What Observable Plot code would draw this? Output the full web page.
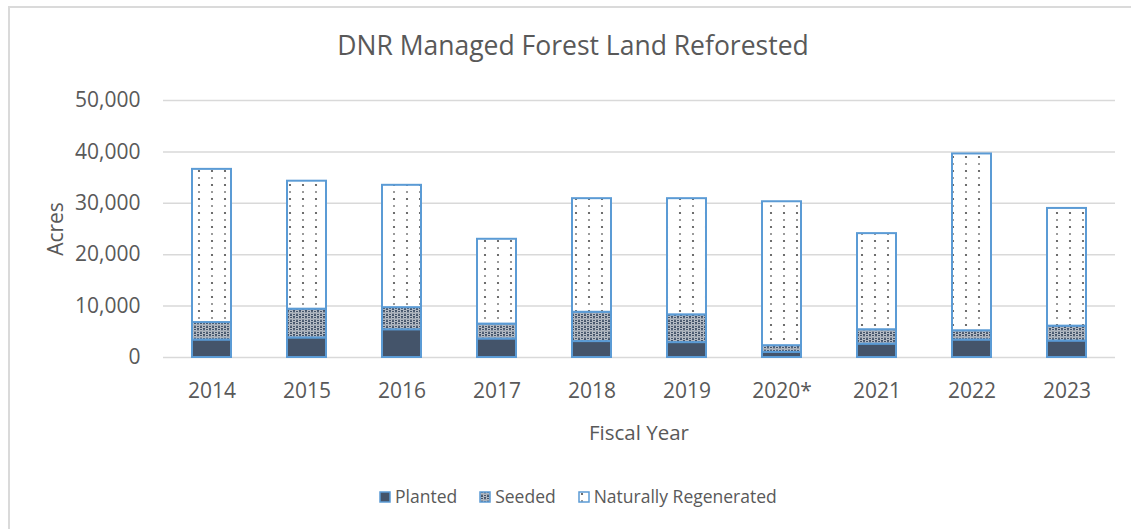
<!DOCTYPE html>
<html>
<head>
<meta charset="utf-8">
<script src="https://cdn.jsdelivr.net/npm/d3@7"></script>
<script src="https://cdn.jsdelivr.net/npm/@observablehq/plot@0.6"></script>
<style>
  html, body { margin:0; padding:0; background:#fff; width:1131px; height:529px; overflow:hidden; }
  body { position:relative; font-family:"Open Sans", sans-serif; color:#595959; }
  .frame { position:absolute; left:8px; top:6px; width:1140px; height:540px; border:2px solid #dadada; box-sizing:border-box; }
  .t { position:absolute; line-height:1; white-space:nowrap; }
  #chart { position:absolute; left:0; top:70px; }
  .legend { position:absolute; left:379px; top:488px; display:flex; align-items:center; font-size:17.5px; line-height:1; }
  .legend .item { display:flex; align-items:center; margin-right:22px; }
  .legend svg { margin-right:4px; }
</style>
</head>
<body>
<svg width="0" height="0" style="position:absolute">
  <defs>
    <pattern id="seeded" patternUnits="userSpaceOnUse" width="6" height="6">
      <rect width="6" height="6" fill="#44546A"/>
      <circle cx="3" cy="1.5" r="1.6" fill="none" stroke="#ffffff" stroke-width="0.9"/>
      <circle cx="0" cy="4.5" r="1.6" fill="none" stroke="#ffffff" stroke-width="0.9"/>
      <circle cx="6" cy="4.5" r="1.6" fill="none" stroke="#ffffff" stroke-width="0.9"/>
    </pattern>
    <pattern id="natural" patternUnits="userSpaceOnUse" width="13" height="14">
      <rect width="13" height="14" fill="#ffffff"/>
      <circle cx="4" cy="3" r="1.1" fill="#4a4a4a"/>
      <circle cx="4" cy="10" r="1.0" fill="#7a7a7a"/>
    </pattern>
  </defs>
</svg>
<div class="frame"></div>
<div class="t" id="title" style="font-size:26.5px; top:32px; left:573px; transform:translateX(-50%);">DNR Managed Forest Land Reforested</div>
<div class="t" style="font-size:21px; left:55px; top:229px; transform:translate(-50%,-50%) rotate(-90deg);">Acres</div>
<div class="t" style="font-size:20.5px; top:422px; left:639px; transform:translateX(-50%);">Fiscal Year</div>
<div id="chart"></div>
<div class="legend" id="legend"></div>
<script>
const years = ["2014", "2015", "2016", "2017", "2018", "2019", "2020*", "2021", "2022", "2023"];
const series = ["Planted", "Seeded", "Naturally Regenerated"];
const planted = [3400, 3800, 5400, 3600, 3100, 2900, 1000, 2600, 3400, 3200];
const seeded  = [3400, 5600, 4300, 2900, 5700, 5400, 1300, 2800, 1800, 2900];
const natural = [29800, 24900, 23800, 16500, 22100, 22600, 28000, 18700, 34400, 22900];
const yTicks = [0, 10000, 20000, 30000, 40000, 50000];
const fills = ["#44546A", "url(#seeded)", "url(#natural)"];

const rows = [];
years.forEach((yr, i) => {
  rows.push({year: yr, type: series[0], acres: planted[i]});
  rows.push({year: yr, type: series[1], acres: seeded[i]});
  rows.push({year: yr, type: series[2], acres: natural[i]});
});

const chart = Plot.plot({
  width: 1131,
  height: 380,
  marginLeft: 163,
  marginRight: 16,
  marginTop: 30,
  marginBottom: 93,
  style: {fontFamily: "'Open Sans', sans-serif", fontSize: "21px", color: "#595959", background: "transparent", overflow: "visible"},
  x: {domain: years, paddingInner: 0.59, paddingOuter: 0.295, label: null, tickSize: 0, tickPadding: 26},
  y: {domain: [0, 50000], ticks: yTicks, tickFormat: d3.format(","), label: null, tickSize: 0, tickPadding: 23},
  color: {domain: series, range: fills},
  marks: [
    Plot.gridY(yTicks, {stroke: "#d9d9d9", strokeOpacity: 1, strokeWidth: 1.5}),
    Plot.barY(rows, {x: "year", y: "acres", fill: "type", stroke: "#5B9BD5", strokeWidth: 2})
  ]
});
document.getElementById("chart").appendChild(chart);

const legend = document.getElementById("legend");
series.forEach((s, i) => {
  const item = document.createElement("div");
  item.className = "item";
  item.innerHTML = `<svg width="12" height="12"><rect x="1" y="1" width="10" height="10" fill="${fills[i]}" stroke="#5B9BD5" stroke-width="1.5"/></svg><span>${s}</span>`;
  legend.appendChild(item);
});
</script>
</body>
</html>
